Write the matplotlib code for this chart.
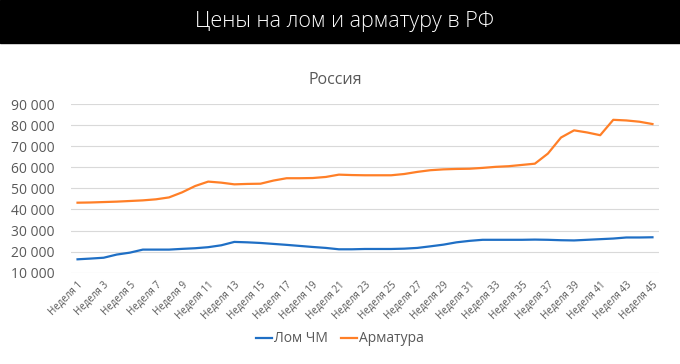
import matplotlib.pyplot as plt
from matplotlib.ticker import FuncFormatter

plt.rcParams['font.family'] = ['Open Sans', 'DejaVu Sans']

weeks = list(range(1, 46))

# Лом ЧМ, руб/т
scrap = [16350, 16700, 17100, 18600, 19500, 20950, 20950, 20950, 21300, 21600,
         22100, 23000, 24600, 24400, 24100, 23650, 23200, 22700, 22200, 21750,
         21100, 21100, 21250, 21250, 21250, 21400, 21750, 22500, 23300, 24400,
         25100, 25600, 25600, 25600, 25600, 25700, 25600, 25400, 25300, 25600,
         25900, 26200, 26700, 26700, 26800]

# Арматура, руб/т
rebar = [43200, 43300, 43500, 43700, 44000, 44300, 44800, 45700, 48100, 51100,
         53200, 52700, 51900, 52100, 52200, 53700, 54800, 54800, 54900, 55400,
         56500, 56300, 56200, 56200, 56200, 56800, 57800, 58600, 59000, 59200,
         59300, 59700, 60200, 60500, 61100, 61700, 66500, 74100, 77500, 76500,
         75200, 82500, 82200, 81600, 80500]

tick_weeks = weeks[::2]
tick_labels = [f'Неделя {w}' for w in tick_weeks]

fig = plt.figure(figsize=(6.8, 3.64), dpi=100)

# black header band
fig.patches.append(plt.Rectangle((0, 1 - 43 / 364), 1, 43 / 364, transform=fig.transFigure,
                                 color='black', zorder=0))
fig.text(0.506, 1 - 21 / 364, 'Цены на лом и арматуру в РФ', color='white',
         fontsize=15.5, ha='center', va='center', fontweight='light')
fig.text(0.493, 1 - 80 / 364, 'Россия', color='#595959', fontsize=11.5,
         ha='center', va='center')

ax = fig.add_axes([71 / 680, 1 - 272.7 / 364, 588 / 680, (272.7 - 104) / 364])
ax.plot(weeks, scrap, color='#1f6fc5', linewidth=1.6, label='Лом ЧМ')
ax.plot(weeks, rebar, color='#ff7f27', linewidth=1.6, label='Арматура')

ax.set_xlim(0.5, 45.5)
ax.set_ylim(10000, 90000)
ax.set_yticks(range(10000, 90001, 10000))
ax.yaxis.set_major_formatter(FuncFormatter(lambda v, p: f'{int(v):,}'.replace(',', ' ')))
ax.grid(axis='y', color='#d9d9d9', linewidth=0.8)
ax.set_axisbelow(True)
for s in ax.spines.values():
    s.set_visible(False)
ax.tick_params(axis='y', length=0, pad=12, labelsize=10, labelcolor='#595959')

ax.set_xticks(tick_weeks)
ax.set_xticklabels(tick_labels, rotation=45, ha='right', va='top',
                   rotation_mode='anchor', fontsize=7, color='#595959')
ax.tick_params(axis='x', length=0, pad=5)

fig.legend(loc='center', bbox_to_anchor=(0.5, 1 - 339 / 364), ncol=2, frameon=False,
           fontsize=10, handlelength=1.1, handletextpad=0.15, columnspacing=1.0,
           labelcolor='#595959')

fig.savefig('out.png', dpi=100)
